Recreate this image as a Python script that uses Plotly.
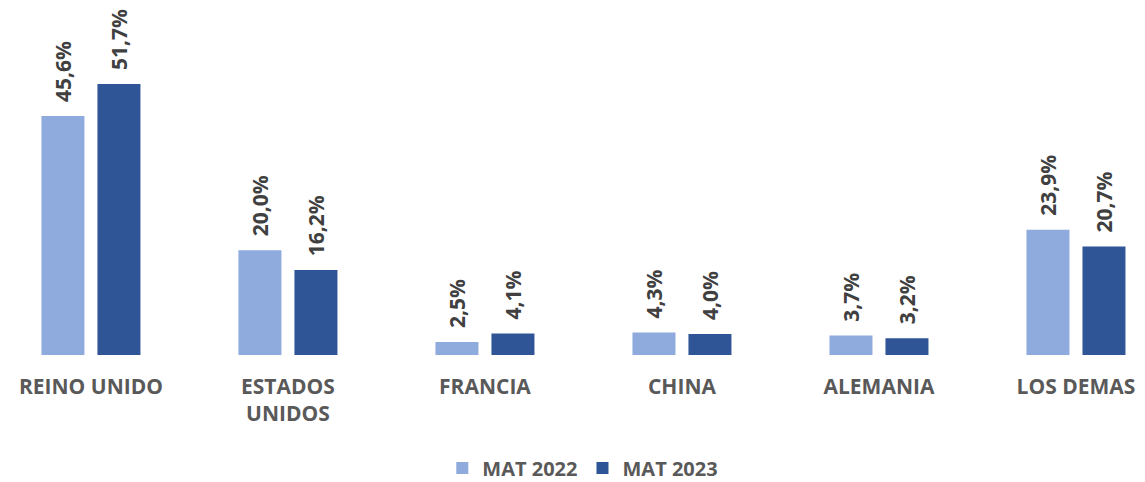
import plotly.graph_objects as go

categories = ["REINO UNIDO", "ESTADOS<br>UNIDOS", "FRANCIA", "CHINA", "ALEMANIA", "LOS DEMAS"]
mat_2022 = [45.6, 20.0, 2.5, 4.3, 3.7, 23.9]
mat_2023 = [51.7, 16.2, 4.1, 4.0, 3.2, 20.7]
series_names = ["MAT 2022", "MAT 2023"]

def fmt(v):
    return "\u00a0\u00a0" + f"{v:.1f}".replace(".", ",") + "%"

FONT = "Open Sans"
fig = go.Figure()
for name, vals, col in [(series_names[0], mat_2022, "#8FAADC"), (series_names[1], mat_2023, "#2F5597")]:
    fig.add_trace(go.Bar(
        x=categories, y=vals, name=name,
        marker=dict(color=col, line=dict(width=0)),
        text=[fmt(v) for v in vals],
        textposition="outside", textangle=-90,
        textfont=dict(family=FONT, size=21, color="#404040", weight="bold"),
        cliponaxis=False, constraintext="none",
    ))

fig.update_layout(
    width=1145, height=482,
    margin=dict(l=0, r=0, t=0, b=135),
    plot_bgcolor="white", paper_bgcolor="white",
    barmode="group", bargap=0.4315, bargroupgap=0.232,
    xaxis=dict(range=[-0.421, 5.391], showgrid=False, showline=False, zeroline=False,
               ticks="", ticklabelstandoff=17, automargin=False,
               tickfont=dict(family=FONT, size=21, color="#595959", weight="bold")),
    yaxis=dict(range=[0, 66.2], visible=False, automargin=False),
    legend=dict(orientation="h", x=0.502, xanchor="center", y=-0.326, yanchor="middle",
                font=dict(family=FONT, size=20, color="#595959", weight="bold"),
                itemwidth=30, traceorder="normal"),
    showlegend=True,
)
fig.write_html("out.html")
